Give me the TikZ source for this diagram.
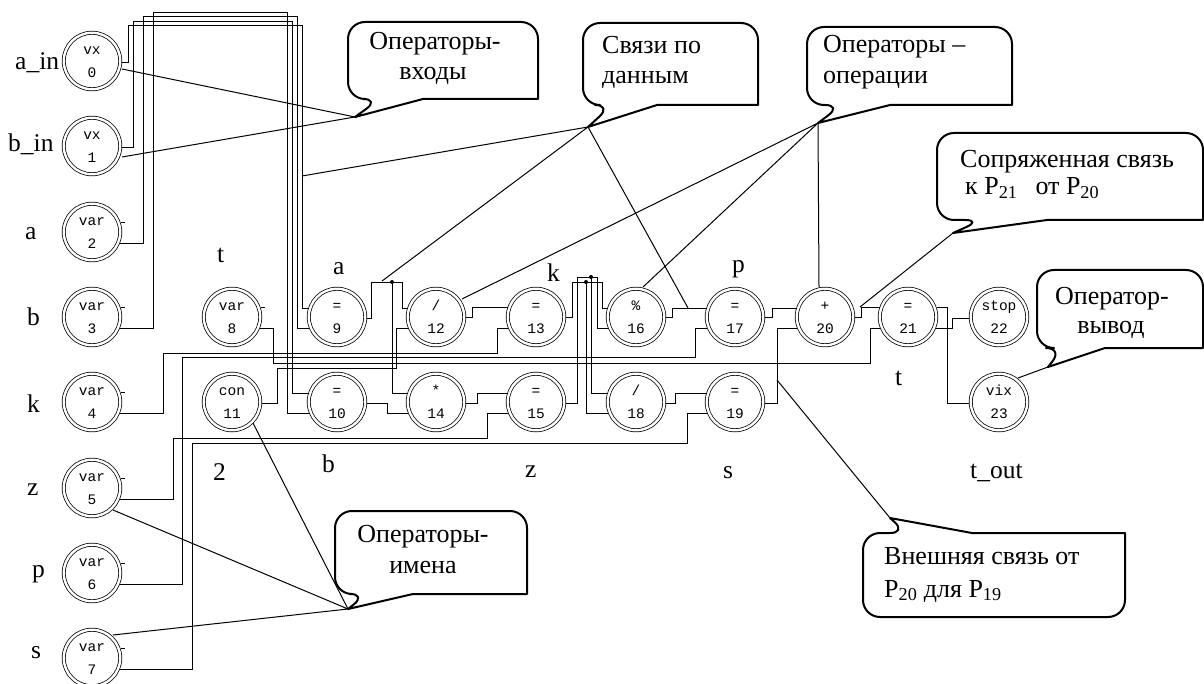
\documentclass[tikz,border=0pt]{standalone}
\usepackage{fontspec}
\setmainfont{Liberation Serif}
\setmonofont{Liberation Mono}
\usetikzlibrary{calc}
\newcommand\optext[2]{\rule{0pt}{10.5pt}#1\\#2}
\newcommand\mycallB[8]{\draw[bubble] (#3,{(#2+#4)/2}) [rounded corners=17pt] -- (#3,#2) -- (#1,#2) -- (#1,#4) -- (#5,#4) [sharp corners] -- (#7,#8) -- (#6,#4) -- (#3,#4) [rounded corners=17pt] -- cycle;}
\begin{document}
\begin{tikzpicture}[x=1pt,y=-1pt,
  op/.style={circle,draw,double,double distance=2.4pt,line width=0.75pt,minimum size=56.5pt,inner sep=0pt,align=center,font=\fontsize{14.5}{23}\selectfont\ttfamily},
  wire/.style={line width=0.9pt},
  ptr/.style={line width=1pt},
  bubble/.style={line width=2pt,fill=white,line join=round},
  lbl/.style={inner sep=0pt,anchor=base west,font=\fontsize{25.5}{30}\selectfont},
  ctext/.style={inner sep=0pt,font=\fontsize{26}{30}\selectfont}
]
\useasboundingbox (0,0) rectangle (1204,684);
\clip (0,0) rectangle (1204,684);

% ---------- operator nodes ----------
\node[op] (n0) at (92,61) {\optext{vx}{0}};
\node[op] (n1) at (92,146) {\optext{vx}{1}};
\node[op] (n2) at (92,232) {\optext{var}{2}};
\node[op] (n3) at (92,317) {\optext{var}{3}};
\node[op] (n4) at (92,402) {\optext{var}{4}};
\node[op] (n5) at (92,488) {\optext{var}{5}};
\node[op] (n6) at (92,573) {\optext{var}{6}};
\node[op] (n7) at (92,658) {\optext{var}{7}};
\node[op] (n8) at (232,317) {\optext{var}{8}};
\node[op] (n11) at (232,402) {\optext{con}{11}};
\node[op] (n9) at (337,317) {\optext{=}{9}};
\node[op] (n10) at (337,402) {\optext{=}{10}};
\node[op] (n12) at (436,317) {\optext{/}{12}};
\node[op] (n14) at (436,402) {\optext{*}{14}};
\node[op] (n13) at (536,317) {\optext{=}{13}};
\node[op] (n15) at (536,402) {\optext{=}{15}};
\node[op] (n16) at (636,317) {\optext{\%}{16}};
\node[op] (n18) at (636,402) {\optext{/}{18}};
\node[op] (n17) at (735,317) {\optext{=}{17}};
\node[op] (n19) at (735,402) {\optext{=}{19}};
\node[op] (n20) at (825,317) {\optext{+}{20}};
\node[op] (n21) at (908,317) {\optext{=}{21}};
\node[op] (n22) at (999,317) {\optext{stop}{22}};
\node[op] (n23) at (999,402) {\optext{vix}{23}};

% unconnected output ticks of name operators
\foreach \n in {n2,n3,n4,n5,n6,n7,n8}
  \draw[wire] ($(\n)+(28.5,-10)$) -- ++(4,0);

% ---------- data wires ----------
\draw[wire] ($(n0)+(30,1)$) -| (128,25) -| (302,308) -- ($(n9)+(-28.5,-9)$);
\draw[wire] ($(n1)+(30,1)$) -| (133,21) -| (292,393) -- ($(n10)+(-28.5,-9)$);
\draw[wire] ($(n2)+(28,11)$) -| (143,16) -| (297,328) -- ($(n9)+(-28,11)$);
\draw[wire] ($(n3)+(28,11)$) -| (153,12) -| (287,413) -- ($(n10)+(-28,11)$);
\draw[wire] ($(n4)+(28,11)$) -| (163,353) -| (497,328) -- ($(n13)+(-28,11)$);
\draw[wire] ($(n5)+(28,11)$) -| (173,438) -| (487,413) -- ($(n15)+(-28,11)$);
\draw[wire] ($(n6)+(28,11)$) -| (182,357) -| (695,328) -- ($(n17)+(-28,11)$);
\draw[wire] ($(n7)+(28,11)$) -| (192,443) -| (687,413) -- ($(n19)+(-28,11)$);
\draw[wire] ($(n8)+(28,11)$) -| (273,363) -| (870,328) -- ($(n21)+(-28,11)$);
\draw[wire] ($(n11)+(30,1)$) -| (277,368) -| (396,328) -- ($(n12)+(-28,11)$);

\coordinate (j9) at (392,282);
\draw[wire] ($(n9)+(30,1)$) -| (371,282) -| (402,308) -- ($(n12)+(-28.5,-9)$);
\draw[wire] (j9) |- ($(n14)+(-28.5,-9)$);
\fill (j9) circle (2pt);
\draw[wire] ($(n10)+(30,1)$) -| (387,413) -- ($(n14)+(-28,11)$);
\draw[wire] ($(n12)+(30,0)$) -| (472,307) -- ($(n13)+(-28.5,-10)$);
\draw[wire] ($(n14)+(30,1)$) -| (477,393) -- ($(n15)+(-28.5,-9)$);

\coordinate (jk) at (586,282);
\coordinate (jz) at (591,277);
\draw[wire] ($(n13)+(30,0)$) -| (572,282) -| (602,308) -- ($(n16)+(-28.5,-9)$);
\draw[wire] (jk) |- ($(n18)+(-28,11)$);
\draw[wire] ($(n15)+(30,1)$) -| (577,277) -| (597,328) -- ($(n16)+(-28,11)$);
\draw[wire] (jz) |- ($(n18)+(-28.5,-9)$);
\fill (jk) circle (2pt);
\fill (jz) circle (2pt);

\draw[wire] ($(n16)+(30,0)$) -| (672,308) -- ($(n17)+(-28.5,-9)$);
\draw[wire] ($(n18)+(30,1)$) -| (675,393) -- ($(n19)+(-28.5,-9)$);
\draw[wire] ($(n17)+(30,0)$) -| (772,308) -- ($(n20)+(-28.5,-9)$);
\draw[wire] ($(n19)+(30,1)$) -| (777,328) -- ($(n20)+(-28,11)$);
\draw[wire] ($(n20)+(30,0)$) -| (861,307) -- ($(n21)+(-28.5,-10)$);
\draw[wire] ($(n21)+(28.5,-10)$) -| (947,403) -- ($(n23)+(-30,1)$);
\draw[wire] ($(n21)+(28,11)$) -| (952,318) -- ($(n22)+(-30,1)$);

% ---------- labels ----------
\node[lbl] (la0) at (15,70) {a\_in};
\node[lbl] (la1) at (8,152) {b\_in};
\node[lbl] (la2) at (25,240) {a};
\node[lbl] (la3) at (27,326) {b};
\node[lbl] (la4) at (27,412) {k};
\node[lbl] (la5) at (27,495) {z};
\node[lbl] (la6) at (32,577) {p};
\node[lbl] (la7) at (31,658) {s};
\node[lbl] (l8) at (217,263) {t};
\node[lbl] (l9) at (333,275) {a};
\node[lbl] (l13) at (547,282) {k};
\node[lbl] (l17) at (732,273) {p};
\node[lbl] (l21) at (895,385) {t};
\node[lbl] (l11) at (213,480) {2};
\node[lbl] (l10) at (322,472) {b};
\node[lbl] (l15) at (525,477) {z};
\node[lbl] (l19) at (723,478) {s};
\node[lbl] (l23) at (970,478) {t\_out};

% ---------- callout pointers ----------
\coordinate (t1) at (355,117);
\coordinate (t2) at (588,127);
\coordinate (t3) at (818,123);
\coordinate (t4) at (953,233);
\coordinate (t5) at (1048,367);
\coordinate (t6) at (348,609);
\coordinate (t7) at (890,518);
\coordinate (w0) at (302,176);
\coordinate (w9) at (382,281);
\coordinate (w16) at (688,308);
\coordinate (w20) at (860,307);
\coordinate (w19) at (777,380);
\draw[ptr] ($(n0)+(30,8)$) -- (t1) -- ($(n1)+(30,11)$);
\draw[ptr] (w0) -- (t2) -- (w9);
\draw[ptr] (t2) -- (w16);
\draw[ptr] ($(n12)+(26,-18)$) -- (t3) -- ($(n16)+(7,-30)$);
\draw[ptr] (t3) -- ($(n20)+(-6,-30)$);
\draw[ptr] (t4) -- (w20);
\draw[ptr] (t5) -- ($(n23)+(19,-24)$);
\draw[ptr] ($(n5)+(21,22)$) -- (t6) -- ($(n7)+(21,-23)$);
\draw[ptr] (t6) -- ($(n11)+(21,21)$);
\draw[ptr] (t7) -- (w19);

% ---------- callouts ----------
\mycallB{348}{22}{538}{99}{380}{423}{355}{117}
\mycallB{583}{23}{758}{105}{612}{657}{588}{127}
\mycallB{807}{27}{1012}{105}{842}{890}{818}{123}
\mycallB{937}{133}{1203}{220}{982}{1047}{953}{233}
\mycallB{1037}{270}{1203}{348}{1063}{1105}{1048}{367}
\mycallB{335}{511}{527}{594}{367}{413}{348}{609}
\draw[bubble] (1125,575) [rounded corners=17pt] -- (1125,617) -- (863,617) -- (863,533) -- (907,533) [sharp corners] -- (890,518) -- (972,533) -- (1125,533) [rounded corners=17pt] -- cycle;

\node[ctext,anchor=base] (c1a) at (435,50) {Операторы-};
\node[ctext,anchor=base] (c1b) at (433,80) {входы};
\node[ctext,anchor=base west] (c2a) at (602,54) {Связи по};
\node[ctext,anchor=base west] (c2b) at (602,84) {данным};
\node[ctext,anchor=base west] (c3a) at (823,53) {Операторы –};
\node[ctext,anchor=base west] (c3b) at (823,84) {операции};
\node[ctext,anchor=base west] (c4a) at (960,168) {Сопряженная связь};
\node[ctext,anchor=base west] (c4b) at (965,195) {к P\textsubscript{21}\hspace{18pt}от P\textsubscript{20}};
\node[ctext,anchor=base] (c5a) at (1112,305) {Оператор-};
\node[ctext,anchor=base] (c5b) at (1111,334) {вывод};
\node[ctext,anchor=base] (c6a) at (423,542) {Операторы-};
\node[ctext,anchor=base] (c6b) at (423,573) {имена};
\node[ctext,anchor=base west] (c7a) at (884,564) {Внешняя связь от};
\node[ctext,anchor=base west] (c7b) at (884,597) {P\textsubscript{20} для P\textsubscript{19}};
\end{tikzpicture}
\end{document}
